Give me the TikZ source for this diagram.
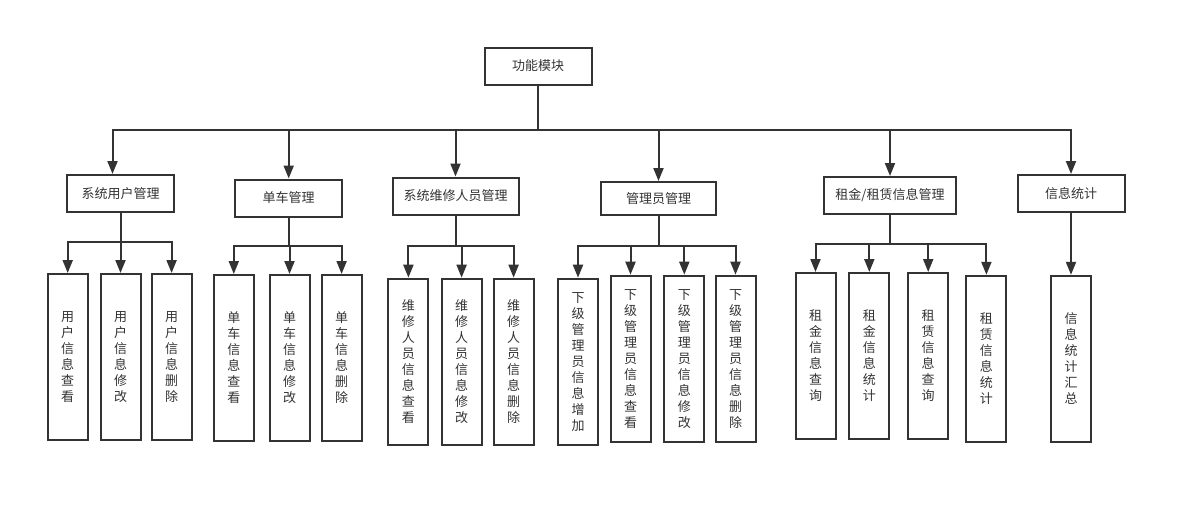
\documentclass[tikz,border=0pt]{standalone}
\usepackage{fontspec}
\setmainfont{Noto Sans CJK SC}
\usetikzlibrary{arrows.meta}
\definecolor{ink}{HTML}{333333}
\begin{document}
\begin{tikzpicture}[x=1pt,y=-1pt,
  box/.style={draw=ink, line width=2pt, inner sep=0pt, text=ink,
    font=\fontsize{13}{16}\selectfont},
  head/.style={box, minimum height=37pt},
  leaf/.style={box, minimum width=40pt, minimum height=166pt, align=center},
  link/.style={draw=ink, line width=2pt, -{Triangle[length=13pt,width=10pt]}},
]
\useasboundingbox (0,0) rectangle (1186,507);

% top module
\node[head, minimum width=107pt] (root) at (538,66) {功能模块};

% second level
\node[head, minimum width=107pt] (c1) at (120.5,193.5) {系统用户管理};
\node[head, minimum width=107pt] (c2) at (288.7,198) {单车管理};
\node[head, minimum width=126pt] (c3) at (455.5,196) {系统维修人员管理};
\node[head, minimum width=115pt, minimum height=33pt] (c4) at (658.5,198.5) {管理员管理};
\node[head, minimum width=132pt] (c5) at (890,195.5) {租金/租赁信息管理};
\node[head, minimum width=107pt] (c6) at (1071,193.5) {信息统计};

% third level
\node[leaf] (l1)  at (67.7,357)  {用\\户\\信\\息\\查\\看};
\node[leaf] (l2)  at (120.5,357) {用\\户\\信\\息\\修\\改};
\node[leaf] (l3)  at (171.6,357) {用\\户\\信\\息\\删\\除};
\node[leaf] (l4)  at (233.8,358) {单\\车\\信\\息\\查\\看};
\node[leaf] (l5)  at (289.5,358) {单\\车\\信\\息\\修\\改};
\node[leaf] (l6)  at (341.6,358) {单\\车\\信\\息\\删\\除};
\node[leaf] (l7)  at (408.4,361.7) {维\\修\\人\\员\\信\\息\\查\\看};
\node[leaf] (l8)  at (461.6,361.7) {维\\修\\人\\员\\信\\息\\修\\改};
\node[leaf] (l9)  at (513.6,361.7) {维\\修\\人\\员\\信\\息\\删\\除};
\node[leaf] (l10) at (578,361.7) {下\\级\\管\\理\\员\\信\\息\\增\\加};
\node[leaf] (l11) at (630.5,358.7) {下\\级\\管\\理\\员\\信\\息\\查\\看};
\node[leaf] (l12) at (684.3,358.7) {下\\级\\管\\理\\员\\信\\息\\修\\改};
\node[leaf] (l13) at (735.5,358.7) {下\\级\\管\\理\\员\\信\\息\\删\\除};
\node[leaf] (l14) at (815.5,356) {租\\金\\信\\息\\查\\询};
\node[leaf] (l15) at (869.3,356) {租\\金\\信\\息\\统\\计};
\node[leaf] (l16) at (928.2,356) {租\\赁\\信\\息\\查\\询};
\node[leaf] (l17) at (986.4,358.8) {租\\赁\\信\\息\\统\\计};
\node[leaf] (l18) at (1071,358.8) {信\\息\\统\\计\\汇\\总};

% bus heights
\coordinate (b0) at (538,130);
\coordinate (b1) at (120,242);
\coordinate (b2) at (289,246);
\coordinate (b3) at (455,246);
\coordinate (b4) at (658,246);
\coordinate (b5) at (890,244);

% top -> second level
\draw[link] (root.south) -- (root.south |- b0) -| ([xshift=-8pt]c1.north);
\foreach \c in {c2,c3,c4,c5,c6}
  \draw[link] (root.south) -- (root.south |- b0) -| (\c.north);

% second -> third level
\foreach \l in {l1,l2,l3}
  \draw[link] (c1.south) -- (c1.south |- b1) -| (\l.north);
\foreach \l in {l4,l5,l6}
  \draw[link] (c2.south) -- (c2.south |- b2) -| (\l.north);
\foreach \l in {l7,l8,l9}
  \draw[link] (c3.south) -- (c3.south |- b3) -| (\l.north);
\foreach \l in {l10,l11,l12,l13}
  \draw[link] (c4.south) -- (c4.south |- b4) -| (\l.north);
\foreach \l in {l14,l15,l16,l17}
  \draw[link] (c5.south) -- (c5.south |- b5) -| (\l.north);
\draw[link] (c6.south) -- (l18.north);
\end{tikzpicture}
\end{document}
